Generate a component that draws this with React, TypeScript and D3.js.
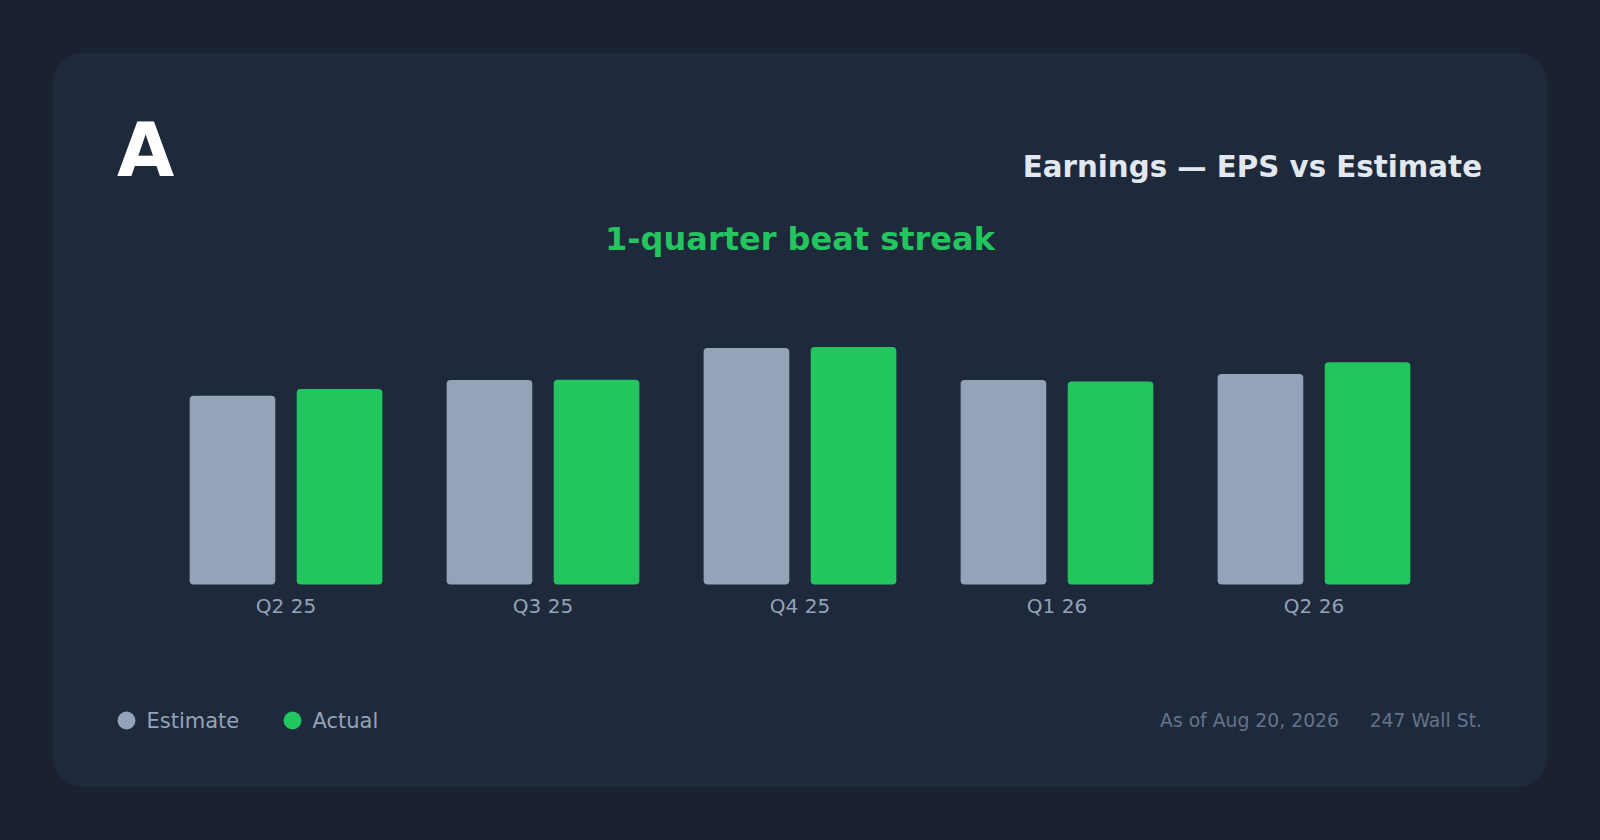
import React from "react";
import * as d3 from "d3";

const quarters = ["Q2 25", "Q3 25", "Q4 25", "Q1 26", "Q2 26"];
const estimateEps = [1.27, 1.375, 1.59, 1.375, 1.415];
const actualEps = [1.315, 1.377, 1.598, 1.365, 1.495];
const seriesKeys = ["Estimate", "Actual"];
const seriesColors = ["#94a3b8", "#22c55e"];

const W = 1600;
const H = 840;
const FONT = "'DejaVu Sans', Verdana, sans-serif";

const App: React.FC = () => {
  // groups
  const x0 = d3
    .scaleBand<string>()
    .domain(quarters)
    .range([157.5, 1442.5])
    .paddingInner(0.25)
    .paddingOuter(0.125);

  const x1 = d3
    .scaleBand<string>()
    .domain(seriesKeys)
    .range([0, x0.bandwidth()])
    .paddingInner(0.2);

  const maxVal = d3.max([...estimateEps, ...actualEps]) ?? 1;
  const y = d3
    .scaleLinear()
    .domain([0, maxVal * 1.15])
    .range([584.5, 584.5 - maxVal * 1.15 * 148.7]);

  const color = d3.scaleOrdinal<string, string>().domain(seriesKeys).range(seriesColors);

  const rows = quarters.map((q, i) => ({
    q,
    values: [
      { key: "Estimate", v: estimateEps[i] },
      { key: "Actual", v: actualEps[i] },
    ],
  }));

  return (
    <div style={{ position: "fixed", left: 0, top: 0, width: W, height: H }}>
      <svg width={W} height={H} style={{ display: "block" }}>
        <rect x={0} y={0} width={W} height={H} fill="#1a2130" />
        <rect x={53} y={53} width={1494} height={734} rx={28} fill="#1e293b" />

        <text x={117} y={175.5} fill="#ffffff" fontFamily={FONT} fontWeight="bold" fontSize={74}>
          A
        </text>
        <text
          x={1482}
          y={176.5}
          textAnchor="end"
          fill="#e2e8f0"
          fontFamily={FONT}
          fontWeight="bold"
          fontSize={29.3}
        >
          Earnings — EPS vs Estimate
        </text>
        <text
          x={800}
          y={249.5}
          textAnchor="middle"
          fill="#22c55e"
          fontFamily={FONT}
          fontWeight="bold"
          fontSize={32}
        >
          1-quarter beat streak
        </text>

        {/* bars */}
        {rows.map((r) => (
          <g key={r.q} transform={`translate(${x0(r.q)},0)`}>
            {r.values.map((d) => (
              <rect
                key={d.key}
                x={x1(d.key)}
                y={y(d.v)}
                width={x1.bandwidth()}
                height={y(0) - y(d.v)}
                rx={4}
                fill={color(d.key)}
              />
            ))}
            <text
              x={x0.bandwidth() / 2}
              y={613}
              textAnchor="middle"
              fill="#94a3b8"
              fontFamily={FONT}
              fontSize={20}
            >
              {r.q}
            </text>
          </g>
        ))}

        {/* legend */}
        {seriesKeys.map((k, i) => {
          const lx = [126.5, 292.5][i];
          return (
            <g key={k}>
              <circle cx={lx} cy={720.5} r={9} fill={color(k)} />
              <text x={lx + 20} y={727.5} fill="#94a3b8" fontFamily={FONT} fontSize={21}>
                {k}
              </text>
            </g>
          );
        })}

        <text x={1339} y={727} textAnchor="end" fill="#64748b" fontFamily={FONT} fontSize={18.8}>
          As of Aug 20, 2026
        </text>
        <text x={1482} y={727} textAnchor="end" fill="#64748b" fontFamily={FONT} fontSize={18.8}>
          247 Wall St.
        </text>
      </svg>
    </div>
  );
};

export default App;
